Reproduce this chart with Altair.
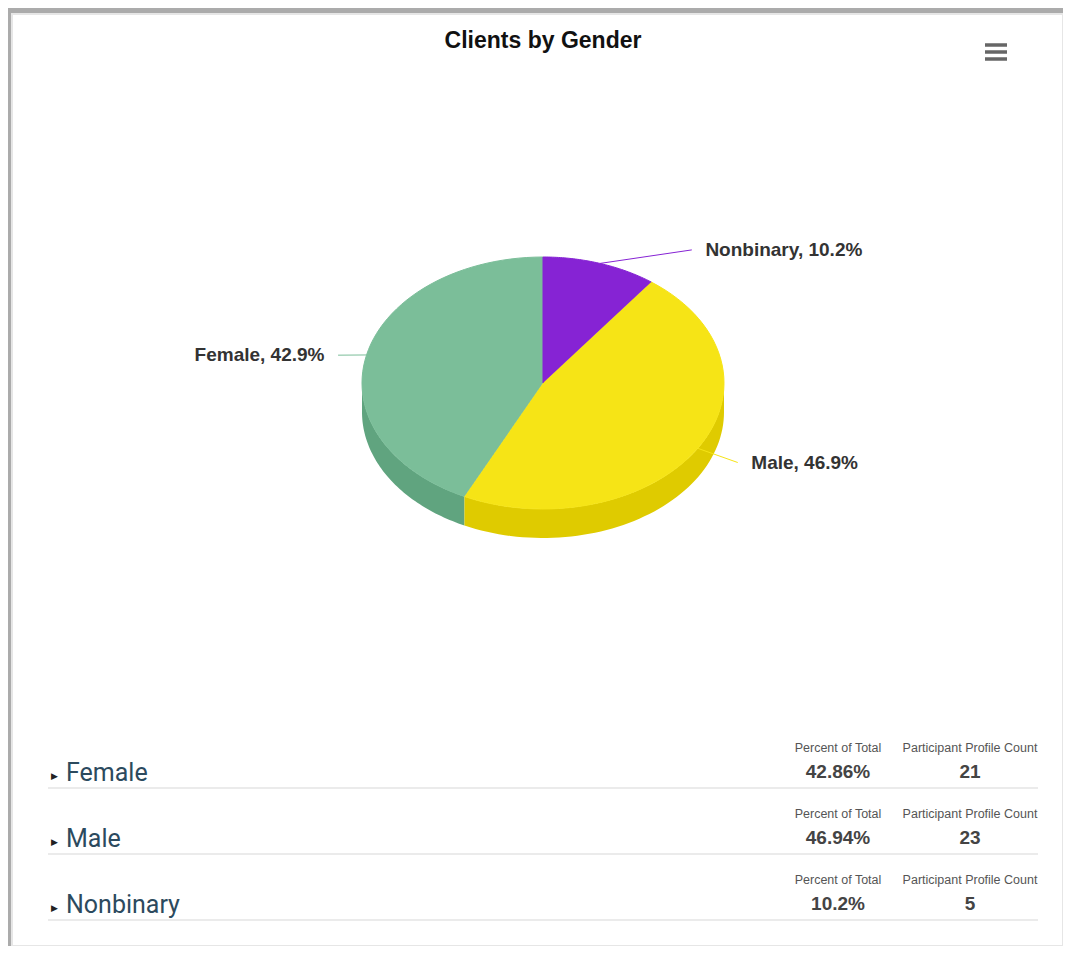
import altair as alt
import pandas as pd

# ---- data ----
genders = ["Female", "Male", "Nonbinary"]
counts = [21, 23, 5]
chart_title = "Clients by Gender"
pct_header = "Percent of Total"
count_header = "Participant Profile Count"

# ---- styles ----
top_colors = ["#7bbe99", "#f6e416", "#8623d4"]
side_colors = ["#60a47f", "#dfcb00", "#6a1aa8"]

df = pd.DataFrame({"gender": genders, "count": counts})
base = alt.Chart(df)

# ---- layout ----
TOTAL_W, TOTAL_H = 1055, 938
PAD_T, PAD_L = 6, 4
VIEW_W, VIEW_H = TOTAL_W - PAD_L, TOTAL_H - PAD_T
CX, CY, RX, RY = 531, 369, 181, 126
DEPTH = 29 / RY

xs = alt.Scale(domain=[-CX / RX, (VIEW_W - CX) / RX], nice=False, zero=False)
ys = alt.Scale(domain=[-(VIEW_H - CY) / RY, CY / RY], nice=False, zero=False)
top_scale = alt.Scale(domain=genders, range=top_colors)
side_scale = alt.Scale(domain=genders, range=side_colors)

pie_base = base.transform_joinaggregate(total="sum(count)").transform_window(
    cum="sum(count)",
    sort=[alt.SortField("gender", order="descending")],
    frame=[None, 0],
).transform_calculate(
    start="2*PI*(datum.cum - datum.count)/datum.total",
    end="2*PI*datum.cum/datum.total",
    mid="PI*(2*datum.cum - datum.count)/datum.total",
)

side = pie_base.transform_calculate(
    sa="max(datum.start, PI/2)", ea="min(datum.end, 3*PI/2)"
).transform_filter("datum.sa < datum.ea").transform_calculate(
    steps="sequence(0, 61)"
).transform_flatten(["steps"], as_=["i"]).transform_calculate(
    theta="datum.sa + (datum.ea - datum.sa) * datum.i / 60",
    sx="sin(datum.theta)",
    sy="cos(datum.theta)",
    sy2=f"cos(datum.theta) - {DEPTH}",
).mark_area(opacity=1).encode(
    x=alt.X("sx:Q", scale=xs, axis=None),
    y=alt.Y("sy:Q", scale=ys, axis=None),
    y2="sy2:Q",
    color=alt.Color("gender:N", scale=side_scale, legend=None),
)

top = pie_base.transform_calculate(steps="sequence(-1, 61)").transform_flatten(
    ["steps"], as_=["i"]
).transform_calculate(
    theta="datum.start + (datum.end - datum.start) * max(datum.i, 0) / 60",
    px="datum.i < 0 ? 0 : sin(datum.theta)",
    py="datum.i < 0 ? 0 : cos(datum.theta)",
).mark_line(strokeWidth=1, interpolate="linear").encode(
    x=alt.X("px:Q", scale=xs, axis=None),
    y=alt.Y("py:Q", scale=ys, axis=None),
    order="i:Q",
    color=alt.Color("gender:N", scale=top_scale, legend=None),
    fill=alt.Fill("gender:N", scale=top_scale, legend=None),
)

lab = pie_base.transform_calculate(
    s="sin(datum.mid)",
    c="cos(datum.mid)",
    sg="datum.s >= 0 ? 1 : -1",
    ly="1.15*datum.c - 0.035",
    lx="datum.sg*(0.47*abs(datum.s) + 0.674)",
    tx="datum.lx + datum.sg*0.075",
    label="datum.gender + ', ' + format(datum.count/datum.total, '.1%')",
)

connectors = lab.mark_rule(strokeWidth=1).encode(
    x=alt.X("s:Q", scale=xs, axis=None),
    y=alt.Y("c:Q", scale=ys, axis=None),
    x2="lx:Q",
    y2="ly:Q",
    color=alt.Color("gender:N", scale=top_scale, legend=None),
)

label_style = dict(baseline="middle", fontSize=19, fontWeight="bold",
                   font="Liberation Sans", color="#333333")
labels_r = lab.transform_filter("datum.s >= 0").mark_text(align="left", **label_style).encode(
    x=alt.X("tx:Q", scale=xs, axis=None),
    y=alt.Y("ly:Q", scale=ys, axis=None),
    text="label:N",
)
labels_l = lab.transform_filter("datum.s < 0").mark_text(align="right", **label_style).encode(
    x=alt.X("tx:Q", scale=xs, axis=None),
    y=alt.Y("ly:Q", scale=ys, axis=None),
    text="label:N",
)

title = alt.Chart(pd.DataFrame({"t": [chart_title]})).mark_text(
    align="center", baseline="middle", fontSize=23, fontWeight="bold",
    font="Liberation Sans", color="#111111",
).encode(x=alt.value(531), y=alt.value(27), text="t:N")

# menu icon (three bars)
icon_src = alt.Chart(pd.DataFrame({"t": [0]}))
icon = alt.layer(*[
    icon_src.mark_rule(color="#666666", strokeWidth=3.5).encode(
        x=alt.value(973), x2=alt.value(995), y=alt.value(yy)
    )
    for yy in (31, 38, 45)
])

# ---- table ----
ROW_PX = 66
row_scale = alt.Scale(domain=[-759 / ROW_PX, (VIEW_H - 759) / ROW_PX],
                      reverse=True, nice=False, zero=False)
tbl = base.transform_joinaggregate(total="sum(count)").transform_window(
    rn="row_number()"
).transform_calculate(
    row="datum.rn - 1",
    sep=f"datum.rn - 1 + {15 / ROW_PX}",
    pct="format(datum.count/datum.total, '.2~%')",
)
ry = alt.Y("row:Q", scale=row_scale, axis=None)

seps = tbl.mark_rule(color="#e4e4e4", strokeWidth=1.5).encode(
    x=alt.value(36), x2=alt.value(1026),
    y=alt.Y("sep:Q", scale=row_scale, axis=None),
)
tri = tbl.mark_text(align="left", baseline="middle", fontSize=9,
                    font="DejaVu Sans", color="#222222", dy=3).encode(
    x=alt.value(39), y=ry, text=alt.value("▶"),
)
tlabel = tbl.mark_text(align="left", baseline="middle", fontSize=25,
                       font="Roboto", color="#2c4a5e").encode(
    x=alt.value(54), y=ry, text="gender:N",
)
hdr_style = dict(align="center", baseline="middle", fontSize=12.5,
                 font="Liberation Sans", color="#555555", dy=-25)
val_style = dict(align="center", baseline="middle", fontSize=19, fontWeight="bold",
                 font="Liberation Sans", color="#444444", dy=-1)
ph = tbl.mark_text(**hdr_style).encode(x=alt.value(826), y=ry, text=alt.value(pct_header))
pv = tbl.mark_text(**val_style).encode(x=alt.value(826), y=ry, text="pct:N")
chd = tbl.mark_text(**hdr_style).encode(x=alt.value(958), y=ry, text=alt.value(count_header))
cv = tbl.mark_text(**val_style).encode(x=alt.value(958), y=ry, text="count:Q")

chart = alt.layer(
    side, top, connectors, labels_r, labels_l, title, icon,
    seps, tri, tlabel, ph, pv, chd, cv,
).resolve_scale(
    x="independent", y="independent", color="independent", fill="independent"
).properties(
    width=TOTAL_W, height=TOTAL_H,
    autosize=alt.AutoSizeParams(type="fit", contains="padding"),
    padding={"top": PAD_T, "left": PAD_L, "right": 0, "bottom": 0},
    background="#ababab",
).configure_view(fill="white", stroke="#e6e6e6", strokeWidth=2)

chart.save("out.html", embed_options={"renderer": "svg", "actions": False})
